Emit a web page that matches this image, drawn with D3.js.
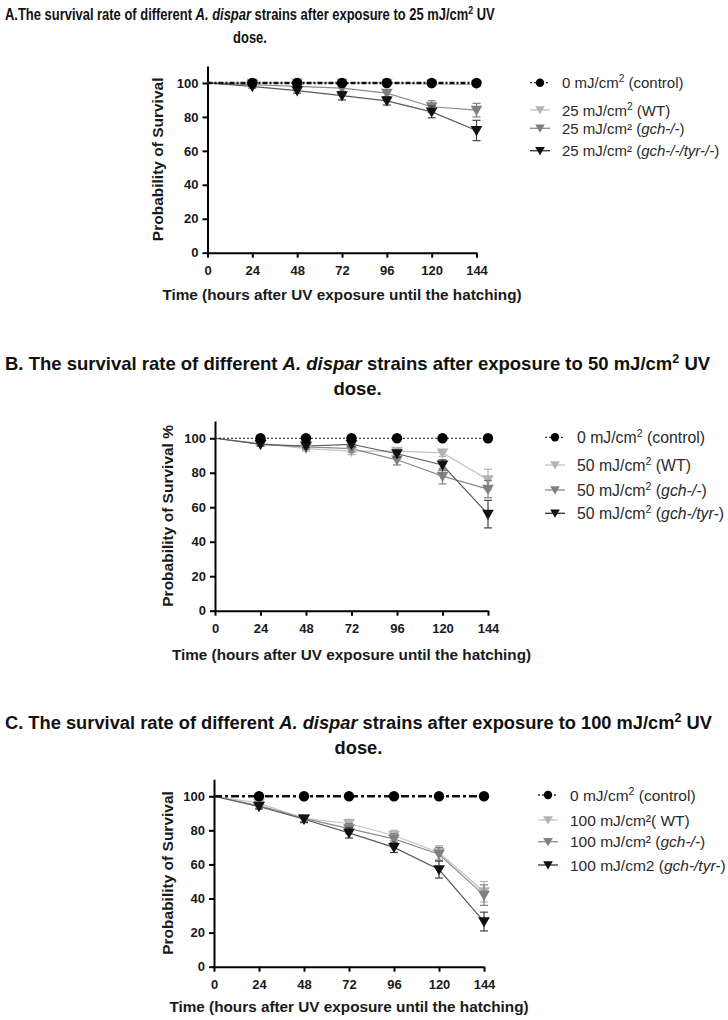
<!DOCTYPE html>
<html>
<head>
<meta charset="utf-8">
<script src="https://cdn.jsdelivr.net/npm/d3@7"></script>
<style>
  body { margin: 0; background: #fff; }
</style>
</head>
<body>
<svg id="chart" width="728" height="1020"></svg>
<script>
'use strict';

// shared axes
var hours = [0, 24, 48, 72, 96, 120, 144],
    yTicks = [0, 20, 40, 60, 80, 100];

// A. 25 mJ/cm2
var a_control = [100, 100, 100, 100, 100, 100, 100],
    a_wt = [100, 100, 100, 100, 100, 99.5, 99],
    a_wt_err = [0, 0.5, 0.5, 1, 1, 1, 1],
    a_gch = [100, 99, 98, 97, 94, 86, 84],
    a_gch_err = [0, 1, 1.5, 2, 2, 3.5, 4],
    a_tyr = [100, 98, 95.5, 92.5, 89.5, 83, 72],
    a_tyr_err = [0, 1, 1.5, 2.5, 2.5, 3.5, 6];

// B. 50 mJ/cm2
var b_control = [100, 100, 100, 100, 100, 100, 100],
    b_wt = [100, 97, 94, 92.5, 92.5, 91.5, 76],
    b_wt_err = [0, 1, 1.5, 2, 2, 2, 6],
    b_gch = [100, 96.5, 95, 94, 87.5, 78, 70.5],
    b_gch_err = [0, 1, 1.5, 2, 3, 4.5, 5],
    b_tyr = [100, 96.5, 95.5, 96.5, 91, 84.5, 56],
    b_tyr_err = [0, 1, 1, 1.5, 2, 3, 8];

// C. 100 mJ/cm2
var c_control = [100, 100, 100, 100, 100, 100, 100],
    c_wt = [100, 96, 87, 84, 77, 67, 44],
    c_wt_err = [0, 1.5, 2, 2.5, 3, 4, 6],
    c_gch = [100, 94.5, 87, 81, 75, 66, 42],
    c_gch_err = [0, 1.5, 2, 3, 3, 4, 6],
    c_tyr = [100, 94, 86.5, 78.5, 70, 57, 26.5],
    c_tyr_err = [0, 1.5, 2, 3, 3, 5, 5.5];

// texts (*..* = italic, ^2 = superscript)
var a_title = ['A.The survival rate of different *A. dispar* strains after exposure to 25 mJ/cm^2 UV', 'dose.'],
    b_title = ['B. The survival rate of different *A. dispar* strains after exposure to 50 mJ/cm^2 UV', 'dose.'],
    c_title = ['C. The survival rate of different *A. dispar* strains after exposure to 100 mJ/cm^2 UV', 'dose.'];

var a_legend = ['0 mJ/cm^2 (control)', '25 mJ/cm^2 (WT)', '25 mJ/cm\u00b2 (*gch-/-*)', '25 mJ/cm\u00b2 (*gch-/-/tyr-/-*)'],
    b_legend = ['0 mJ/cm^2 (control)', '50 mJ/cm^2 (WT)', '50 mJ/cm^2 (*gch-/-*)', '50 mJ/cm^2 (*gch-/tyr-*)'],
    c_legend = ['0 mJ/cm^2 (control)', '100 mJ/cm\u00b2( WT)', '100 mJ/cm\u00b2 (*gch-/-*)', '100 mJ/cm2 (*gch-/tyr-*)'];

var x_label = 'Time (hours after UV exposure until the hatching)';

var BOLD = '"Liberation Sans", Arial, sans-serif';

var svg = d3.select('#chart');

function richText(sel, str, shift) {
    var parts = str.split(/(\^2|\*[^*]+\*)/).filter(function(p) { return p.length; }),
        raised = false;
    parts.forEach(function(p) {
        var t = sel.append('tspan');
        if (p === '^2') {
            t.text('2').attr('font-size', '68%').attr('dy', -shift);
            raised = true;
            return;
        }
        if (raised) { t.attr('dy', shift); raised = false; }
        if (p[0] === '*') t.text(p.slice(1, -1)).attr('font-style', 'italic');
        else t.text(p);
    });
}

var wtColor = '#b4b4b4', gchColor = '#808080', tyrColor = '#111';

function drawPanel(p) {
    var x = d3.scaleLinear().domain([0, 144]).range([p.left, p.right]),
        y = d3.scaleLinear().domain([0, 110]).range([p.bottom, p.top]),
        g = svg.append('g');

    // title (first panel is set in a condensed face -> squeeze horizontally)
    var tg = g.append('g');
    var t1 = tg.append('text')
        .attr('x', 0).attr('y', 0)
        .attr('font-family', BOLD).attr('font-weight', 'bold')
        .attr('font-size', p.titleSize).attr('fill', '#111');
    richText(t1, p.title[0], p.titleSize * 0.4);
    var w = t1.node().getComputedTextLength(),
        sx = p.titleWidth ? p.titleWidth / w : 1;
    tg.append('text')
        .attr('x', w / 2).attr('y', p.titleGap)
        .attr('text-anchor', 'middle')
        .attr('font-family', BOLD).attr('font-weight', 'bold')
        .attr('font-size', p.titleSize).attr('fill', '#111')
        .text(p.title[1]);
    tg.attr('transform', 'translate(5,' + p.titleY + ') scale(' + sx + ',1)');

    // axes
    var xAxis = g.append('g')
        .attr('transform', 'translate(0,' + p.bottom + ')')
        .call(d3.axisBottom(x).tickValues(hours).tickSize(5).tickSizeOuter(0).tickPadding(5));
    var yAxis = g.append('g')
        .attr('transform', 'translate(' + p.left + ',0)')
        .call(d3.axisLeft(y).tickValues(yTicks).tickSize(5).tickSizeOuter(0).tickPadding(4));
    [xAxis, yAxis].forEach(function(a) {
        a.select('.domain').attr('stroke', '#000').attr('stroke-width', 2);
        a.selectAll('.tick line').attr('stroke', '#000').attr('stroke-width', 2);
        a.selectAll('.tick text')
            .attr('font-family', BOLD).attr('font-weight', 'bold')
            .attr('font-size', 13).attr('fill', '#1a1a1a');
    });
    xAxis.selectAll('.tick text').attr('dy', '0.95em');

    g.append('text')
        .attr('x', (p.left + p.right) / 2).attr('y', p.xLabelY)
        .attr('text-anchor', 'middle')
        .attr('font-family', BOLD).attr('font-weight', 'bold')
        .attr('font-size', 15.3).attr('fill', '#1a1a1a')
        .text(x_label);
    g.append('text')
        .attr('transform', 'translate(' + p.yLabelX + ',' + (p.bottom + p.top) / 2 + ') rotate(-90)')
        .attr('text-anchor', 'middle')
        .attr('font-family', BOLD).attr('font-weight', 'bold')
        .attr('font-size', 15.5).attr('fill', '#1a1a1a')
        .text(p.yLabel);

    var line = d3.line()
        .x(function(d) { return x(d[0]); })
        .y(function(d) { return y(d[1]); });

    var series = [
        { v: p.wt, e: p.wtErr, color: wtColor, lc: '#c4c4c4' },
        { v: p.gch, e: p.gchErr, color: gchColor, lc: '#8c8c8c' },
        { v: p.tyr, e: p.tyrErr, color: tyrColor, lc: '#5a5a5a' }
    ];

    series.forEach(function(s) {
        var pts = hours.map(function(h, i) { return [h, s.v[i]]; });
        g.append('path')
            .attr('d', line(pts))
            .attr('fill', 'none').attr('stroke', s.lc).attr('stroke-width', 1.2);
    });

    series.forEach(function(s) {
        hours.forEach(function(h, i) {
            if (h === 0) return;
            var eb = g.append('g').attr('stroke', s.color === tyrColor ? '#444' : s.color).attr('stroke-width', 1.2);
            eb.append('line').attr('x1', x(h)).attr('x2', x(h))
                .attr('y1', y(s.v[i] - s.e[i])).attr('y2', y(s.v[i] + s.e[i]));
            [s.v[i] - s.e[i], s.v[i] + s.e[i]].forEach(function(v) {
                eb.append('line').attr('x1', x(h) - 4).attr('x2', x(h) + 4)
                    .attr('y1', y(v)).attr('y2', y(v));
            });
            g.append('path')
                .attr('d', d3.symbol(d3.symbolTriangle, 60)())
                .attr('transform', 'translate(' + x(h) + ',' + (y(s.v[i]) - 1) + ') rotate(180)')
                .attr('fill', s.color);
        });
    });

    // control on top
    var cpts = hours.map(function(h, i) { return [h, p.control[i]]; });
    g.append('path')
        .attr('d', line(cpts))
        .attr('fill', 'none').attr('stroke', '#111')
        .attr('stroke-width', p.ctrlWidth).attr('stroke-dasharray', p.ctrlDash);
    hours.forEach(function(h, i) {
        if (h === 0) return;
        g.append('circle').attr('cx', x(h)).attr('cy', y(p.control[i])).attr('r', 5.2).attr('fill', '#000');
    });

    // legend
    var legendStyles = [
        { type: 'circle', color: '#000', lc: '#333', dash: '2,2' },
        { type: 'tri', color: wtColor, lc: '#c4c4c4' },
        { type: 'tri', color: gchColor, lc: '#8c8c8c' },
        { type: 'tri', color: tyrColor, lc: '#333' }
    ];
    p.legend.forEach(function(label, i) {
        var ly = p.legendRows[i], st = legendStyles[i];
        g.append('line')
            .attr('x1', p.legendX - 10).attr('x2', p.legendX + 10)
            .attr('y1', ly).attr('y2', ly)
            .attr('stroke', st.lc).attr('stroke-width', 1.3)
            .attr('stroke-dasharray', st.dash || null);
        if (st.type === 'circle') {
            g.append('circle').attr('cx', p.legendX).attr('cy', ly).attr('r', 4.2).attr('fill', st.color);
        } else {
            g.append('path')
                .attr('d', d3.symbol(d3.symbolTriangle, 40)())
                .attr('transform', 'translate(' + p.legendX + ',' + (ly - 1) + ') rotate(180)')
                .attr('fill', st.color);
        }
        var lt = g.append('text')
            .attr('x', p.legendX + 22).attr('y', ly + 5.5)
            .attr('font-family', BOLD).attr('font-size', p.legendSize).attr('fill', '#2a2a2a');
        richText(lt, label, 6);
    });
}

drawPanel({
    title: a_title, titleY: 20, titleGap: 23, titleSize: 16, titleWidth: 490,
    left: 207.5, right: 476.5, top: 66, bottom: 252.7,
    xLabelY: 300, yLabelX: 163, yLabel: 'Probability of Survival',
    control: a_control, wt: a_wt, wtErr: a_wt_err, gch: a_gch, gchErr: a_gch_err, tyr: a_tyr, tyrErr: a_tyr_err,
    ctrlWidth: 2.4, ctrlDash: '5,2,2,2',
    legend: a_legend, legendX: 540, legendRows: [82.7, 110, 128.3, 150.7], legendSize: 15
});

drawPanel({
    title: b_title, titleY: 370, titleGap: 25, titleSize: 18.5,
    left: 215, right: 488, top: 421, bottom: 610.7,
    xLabelY: 660, yLabelX: 173, yLabel: 'Probability of Survival %',
    control: b_control, wt: b_wt, wtErr: b_wt_err, gch: b_gch, gchErr: b_gch_err, tyr: b_tyr, tyrErr: b_tyr_err,
    ctrlWidth: 1.2, ctrlDash: '2,2',
    legend: b_legend, legendX: 555, legendRows: [437.3, 465, 490, 513.3], legendSize: 15.8
});

drawPanel({
    title: c_title, titleY: 729, titleGap: 25, titleSize: 18.3,
    left: 214, right: 484, top: 779.2, bottom: 966.7,
    xLabelY: 1012, yLabelX: 173, yLabel: 'Probability of Survival',
    control: c_control, wt: c_wt, wtErr: c_wt_err, gch: c_gch, gchErr: c_gch_err, tyr: c_tyr, tyrErr: c_tyr_err,
    ctrlWidth: 2.6, ctrlDash: '8,3,3,3',
    legend: c_legend, legendX: 548, legendRows: [795, 820, 841.7, 865], legendSize: 15.5
});
</script>
</body>
</html>
